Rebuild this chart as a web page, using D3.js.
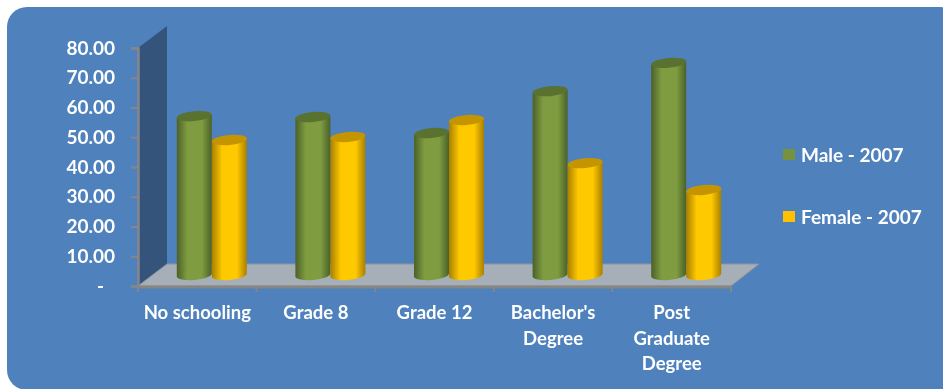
<!DOCTYPE html>
<html><head><meta charset="utf-8">
<script src="https://cdnjs.cloudflare.com/ajax/libs/d3/7.8.5/d3.min.js"></script>
<style>html,body{margin:0;padding:0;background:#fff;overflow:hidden}svg{display:block}
text{font-family:Lato,"Open Sans",sans-serif;font-weight:700;fill:#fff}</style>
</head><body><script>
const categories=[["No schooling"],["Grade 8"],["Grade 12"],["Bachelor's","Degree"],["Post","Graduate","Degree"]];
const male=[53.4,53.1,47.7,61.8,71.3];
const female=[45.4,46.4,52.1,37.6,28.6];
const yTicks=[0,10,20,30,40,50,60,70,80];
const legendLabels=["Male - 2007","Female - 2007"];
const W=943,H=389;
const svg=d3.select("body").append("svg").attr("width",W).attr("height",H);
const defs=svg.append("defs");
defs.append("filter").attr("id","soft").append("feGaussianBlur").attr("stdDeviation",0.45);
function grad(id,edge,mid){
  const g=defs.append("linearGradient").attr("id",id);
  [[0,edge],[0.3,mid],[0.72,mid],[1,edge]].forEach(([o,c])=>g.append("stop").attr("offset",o).attr("stop-color",c));
}
grad("gm","#4b6127","#7f9c41");
grad("gf","#a87f00","#ffc900");

svg.append("rect").attr("x",7).attr("y",7).attr("width",953).attr("height",383).attr("rx",20).attr("fill","#4f81bd");

// depth offset between the front axis plane and the back plane
const dx=29,dy=-22;
const yAxisFront=d3.scaleLinear().domain([0,80]).range([286,48]);
const xFront=d3.scaleBand().domain(d3.range(categories.length)).range([138,731]);
const y=d3.scaleLinear().domain([0,80]).range([275,37]);
const x=d3.scaleBand().domain(d3.range(categories.length)).range([153,746]);
const barW=35;

// wall and floor
const y0=yAxisFront(0),y8=yAxisFront(80),xl=xFront.range()[0],xr=xFront.range()[1];
svg.append("path").attr("fill","#34547c").attr("d",d3.line()([[xl,y8],[xl+dx,y8+dy],[xl+dx,y0+dy],[xl,y0]]));
svg.append("path").attr("fill","#a6afb8").attr("stroke","#8d949b").attr("stroke-width",1)
  .attr("d",d3.line()([[xl,y0],[xl+dx,y0+dy],[xr+dx-1,y0+dy],[xr,y0]])+"Z");

// axes
const axisColor="#868686";
const gy=svg.append("g").attr("transform",`translate(${xl},0)`)
  .call(d3.axisLeft(yAxisFront).tickValues(yTicks).tickSize(7).tickPadding(16).tickFormat(d=>d===0?"-":d3.format(".2f")(d)));
gy.select(".domain").attr("stroke",axisColor).attr("stroke-width",2.5);
gy.selectAll("line").attr("stroke",axisColor).attr("stroke-width",2);
gy.selectAll("text").attr("font-size",19).attr("filter","url(#soft)").style("fill","#fff")
  .attr("dx",d=>d===0?-11:0);
const gx=svg.append("g");
gx.append("line").attr("x1",xl).attr("x2",xr).attr("y1",y0+1).attr("y2",y0+1).attr("stroke",axisColor).attr("stroke-width",3);
gx.selectAll("line.t").data(d3.range(categories.length+1)).join("line").attr("class","t")
  .attr("x1",i=>i<categories.length?xFront(i):xr).attr("x2",i=>i<categories.length?xFront(i):xr)
  .attr("y1",y0).attr("y2",y0+6).attr("stroke",axisColor).attr("stroke-width",2);

// category labels
const labels=svg.append("g").selectAll("text").data(categories).join("text")
  .attr("text-anchor","middle").attr("font-size",18.5).attr("filter","url(#soft)")
  .attr("transform",(d,i)=>`translate(${xFront(i)+xFront.bandwidth()/2},0)`);
labels.selectAll("tspan").data(d=>d).join("tspan").attr("x",0).attr("y",(d,j)=>319+j*25.5).text(d=>d);

// cylinders
function cyl(vals,off,fill,top){
  const g=svg.append("g");
  vals.forEach((v,i)=>{
    const cx=x(i)+x.bandwidth()/2+off, rx=barW/2, ry=5, yt=y(v), yb=y(0);
    const tilt=1.5;
    g.append("path").attr("fill",`url(#${fill})`)
      .attr("d",`M${cx-rx},${yt+tilt} L${cx-rx},${yb+tilt} A${rx},${ry} -5 0 0 ${cx+rx},${yb-tilt} L${cx+rx},${yt-tilt} Z`);
    g.append("ellipse").attr("cx",cx).attr("cy",yt).attr("rx",rx).attr("ry",ry)
      .attr("transform",`rotate(-5 ${cx} ${yt})`).attr("fill",top);
  });
}
cyl(male,-18,"gm","#5a7230");
cyl(female,17,"gf","#c49500");

// legend
const leg=svg.append("g").selectAll("g").data(legendLabels).join("g")
  .attr("transform",(d,i)=>`translate(783,${155+i*62})`);
leg.append("rect").attr("y",-6).attr("width",12).attr("height",11).attr("fill",(d,i)=>i?"#ffc000":"#76923c");
leg.append("text").attr("x",18).attr("y",7).attr("font-size",19).attr("filter","url(#soft)").text(d=>d);
</script></body></html>
